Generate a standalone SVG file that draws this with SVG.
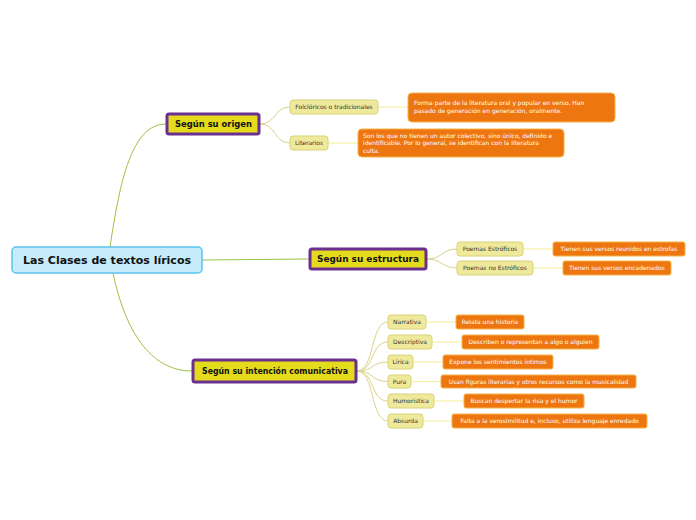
<svg xmlns="http://www.w3.org/2000/svg" width="696" height="520" viewBox="0 0 696 520">
<style>
text{font-family:"DejaVu Sans","Liberation Sans",sans-serif}
.root rect{fill:#c6ebfa;stroke:#5cc3ee;stroke-width:1.5}
.root text{font-size:11px;font-weight:bold;fill:#111}
.main rect{fill:#e4db1c;stroke:#6b2f8f;stroke-width:3}
.main text{font-size:8px;font-weight:bold;fill:#111}
.sub rect{fill:#efe99c;stroke:#d9d27a;stroke-width:1}
.sub text{font-size:6px;fill:#333}
.leaf rect{fill:#ee7610;stroke:#f5b246;stroke-width:1}
.leaf text{font-size:6px;fill:#fff}
.c1{fill:none;stroke:#9cc23f;stroke-width:1}
.c2{fill:none;stroke:#d9d488;stroke-width:1}
.c3{fill:none;stroke:#f6f0a6;stroke-width:1.2}
</style>
<g id="connectors">
<path class="c1" d="M110,247 C120,180 132,124 166,124"/>
<path class="c1" d="M202,260 L309,259"/>
<path class="c1" d="M113,273 C125,330 150,371 192,371"/>
<path class="c2" d="M260,124 C276,124 274,107 290,107"/>
<path class="c2" d="M260,124 C276,124 274,143 290,143"/>
<path class="c2" d="M427,259 C442,259 442,249 457,249"/>
<path class="c2" d="M427,259 C442,259 442,268 457,268"/>
<path class="c2" d="M357,371 C375,371 370,322 388,322"/>
<path class="c2" d="M357,371 C375,371 370,342 388,342"/>
<path class="c2" d="M357,371 C375,371 370,362 388,362"/>
<path class="c2" d="M357,371 C375,371 370,381.5 388,381.5"/>
<path class="c2" d="M357,371 C375,371 370,401 388,401"/>
<path class="c2" d="M357,371 C375,371 370,421 388,421"/>
<path class="c3" d="M378,107 L408,107"/>
<path class="c3" d="M328,143 L358,143"/>
<path class="c3" d="M523,249 L553,249"/>
<path class="c3" d="M533,268 L563,268"/>
<path class="c3" d="M426,322 L456,322"/>
<path class="c3" d="M432,342 L462,342"/>
<path class="c3" d="M413,362 L443,362"/>
<path class="c3" d="M411,381.5 L441,381.5"/>
<path class="c3" d="M434,401 L464,401"/>
<path class="c3" d="M423,421 L452,421"/>
</g>
<g id="root" class="root"><rect x="12" y="247" width="190" height="26" rx="4"/><text x="107" y="264" text-anchor="middle">Las Clases de textos líricos</text></g>
<g id="origen" class="main"><rect x="167" y="114" width="92" height="20" rx="2"/><text x="175" y="127.2" textLength="77" lengthAdjust="spacingAndGlyphs">Según su origen</text></g>
<g id="estructura" class="main"><rect x="310" y="249" width="116" height="20" rx="2"/><text x="317" y="262.2" textLength="102" lengthAdjust="spacingAndGlyphs">Según su estructura</text></g>
<g id="intencion" class="main"><rect x="193" y="360" width="163" height="22" rx="2"/><text x="202" y="374.2" textLength="146" lengthAdjust="spacingAndGlyphs">Según su intención comunicativa</text></g>
<g id="folcloricos" class="sub"><rect x="290" y="100" width="88" height="14" rx="3"/><text x="334" y="109.2" text-anchor="middle">Folclóricos o tradicionales</text></g>
<g id="literarios" class="sub"><rect x="290" y="136" width="38" height="14" rx="3"/><text x="309" y="145.2" text-anchor="middle">Literarios</text></g>
<g id="forma" class="leaf"><rect x="408" y="93" width="207" height="29" rx="4"/><text x="414" y="104.5">Forma parte de la literatura oral y popular en verso. Han</text><text x="414" y="113">pasado de generación en generación, oralmente.</text></g>
<g id="sonlos" class="leaf"><rect x="358" y="129" width="206" height="28" rx="4"/><text x="363" y="137.5">Son los que no tienen un autor colectivo, sino único, definido e</text><text x="363" y="145">identificable.  Por lo general, se identifican con la literatura</text><text x="363" y="152.5">culta.</text></g>
<g id="estroficos" class="sub"><rect x="457" y="242" width="66" height="14" rx="3"/><text x="490" y="251.2" text-anchor="middle">Poemas Estróficos</text></g>
<g id="noestroficos" class="sub"><rect x="457" y="261" width="76" height="14" rx="3"/><text x="495" y="270.2" text-anchor="middle">Poemas no Estróficos</text></g>
<g id="reunidos" class="leaf"><rect x="553" y="242" width="132" height="14" rx="2"/><text x="619" y="251.2" text-anchor="middle">Tienen sus versos reunidos en estrofas</text></g>
<g id="encadenados" class="leaf"><rect x="563" y="261" width="108" height="14" rx="2"/><text x="617" y="270.2" text-anchor="middle">Tienen sus versos encadenados</text></g>
<g id="narrativa" class="sub"><rect x="388" y="315" width="38" height="14" rx="3"/><text x="407" y="324.2" text-anchor="middle">Narrativa</text></g>
<g id="descriptiva" class="sub"><rect x="388" y="335" width="44" height="14" rx="3"/><text x="410" y="344.2" text-anchor="middle">Descriptiva</text></g>
<g id="lirica" class="sub"><rect x="388" y="355" width="25" height="14" rx="3"/><text x="400.5" y="364.2" text-anchor="middle">Lírica</text></g>
<g id="pura" class="sub"><rect x="388" y="375" width="23" height="13" rx="3"/><text x="399.5" y="383.7" text-anchor="middle">Pura</text></g>
<g id="humoristica" class="sub"><rect x="388" y="394" width="46" height="14" rx="3"/><text x="411" y="403.2" text-anchor="middle">Humorística</text></g>
<g id="absurda" class="sub"><rect x="388" y="414" width="35" height="14" rx="3"/><text x="405.5" y="423.2" text-anchor="middle">Absurda</text></g>
<g id="relata" class="leaf"><rect x="456" y="315" width="68" height="14" rx="2"/><text x="490" y="324.2" text-anchor="middle">Relata una historia</text></g>
<g id="describen" class="leaf"><rect x="462" y="335" width="137" height="14" rx="2"/><text x="530.5" y="344.2" text-anchor="middle">Describen o representan a algo o alguien</text></g>
<g id="expone" class="leaf"><rect x="443" y="355" width="110" height="14" rx="2"/><text x="498" y="364.2" text-anchor="middle">Expone los sentimientos íntimos</text></g>
<g id="usan" class="leaf"><rect x="441" y="375" width="195" height="13" rx="2"/><text x="538.5" y="383.7" text-anchor="middle">Usan figuras literarias y otros recursos como la musicalidad</text></g>
<g id="buscan" class="leaf"><rect x="464" y="394" width="120" height="14" rx="2"/><text x="524" y="403.2" text-anchor="middle">Buscan despertar la risa y el humor</text></g>
<g id="falta" class="leaf"><rect x="452" y="414" width="195" height="14" rx="2"/><text x="549.5" y="423.2" text-anchor="middle">Falta a la verosimilitud e, incluso, utiliza lenguaje enredado</text></g>
</svg>
